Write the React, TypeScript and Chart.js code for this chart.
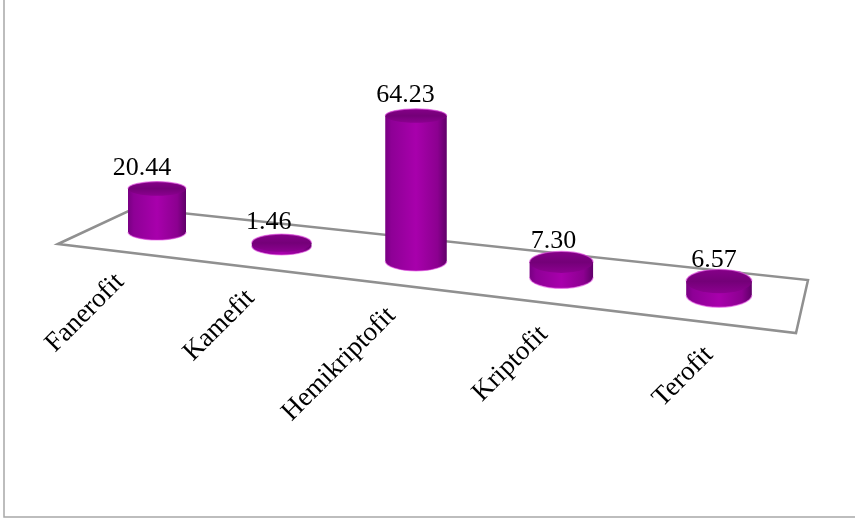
import React, { useEffect, useRef } from "react";
import { Chart, registerables } from "chart.js";

Chart.register(...registerables);

const categories = ["Fanerofit", "Kamefit", "Hemikriptofit", "Kriptofit", "Terofit"];
const percentages = [20.44, 1.46, 64.23, 7.3, 6.57];

const SERIF = '"Liberation Serif", "Times New Roman", serif';
const PX_PER_UNIT = 2.05;

// Projects a column position on the flat axis onto the tilted floor plane.
function floorX(slot: number) {
  return 157 + (120.1 * slot) / (1 - 0.0363 * slot);
}
const floorCentreY = (x: number) => 232 + (x - 157) * 0.112;
const radiusX = (x: number) => 29 + (x - 157) * 0.0068;
const radiusY = (x: number) => 8 + (x - 157) * 0.0075;

function ellipsePath(ctx: CanvasRenderingContext2D, x: number, y: number, rx: number, ry: number) {
  ctx.beginPath();
  ctx.ellipse(x, y, rx, ry, 0, 0, Math.PI * 2);
}

function drawCylinder(
  ctx: CanvasRenderingContext2D,
  x: number,
  bottom: number,
  height: number,
  rx: number,
  ryBottom: number,
  ryTop: number
) {
  const top = bottom - height;

  // Curved side wall: lower half of the base ellipse joined to the top ellipse.
  const side = ctx.createLinearGradient(x - rx, 0, x + rx, 0);
  side.addColorStop(0, "#780082");
  side.addColorStop(0.1, "#8e0096");
  side.addColorStop(0.5, "#a800ac");
  side.addColorStop(0.85, "#8c0090");
  side.addColorStop(1, "#600069");
  ctx.beginPath();
  ctx.moveTo(x - rx, top);
  ctx.lineTo(x - rx, bottom);
  ctx.ellipse(x, bottom, rx, ryBottom, 0, Math.PI, 0, true);
  ctx.lineTo(x + rx, top);
  ctx.closePath();
  ctx.fillStyle = side;
  ctx.fill();

  // Soft light rim along the base.
  ctx.beginPath();
  ctx.ellipse(x, bottom, rx, ryBottom, 0, Math.PI, 0, true);
  ctx.strokeStyle = "rgba(225, 80, 225, 0.6)";
  ctx.lineWidth = 1.2;
  ctx.stroke();

  // Top cap.
  const cap = ctx.createLinearGradient(0, top - ryTop, 0, top + ryTop);
  cap.addColorStop(0, "#850088");
  cap.addColorStop(0.5, "#740078");
  cap.addColorStop(1, "#8c0090");
  ellipsePath(ctx, x, top, rx, ryTop);
  ctx.fillStyle = cap;
  ctx.fill();
  ctx.beginPath();
  ctx.ellipse(x, top, rx, ryTop, 0, Math.PI, 0, false);
  ctx.strokeStyle = "rgba(225, 80, 225, 0.65)";
  ctx.stroke();
}

const tiltedColumns = {
  id: "tiltedColumns",
  beforeDatasetsDraw(chart: Chart) {
    const { ctx } = chart;
    ctx.save();

    // Frame of the chart object.
    ctx.strokeStyle = "#a8a8a8";
    ctx.lineWidth = 1.5;
    ctx.beginPath();
    ctx.moveTo(4, 0);
    ctx.lineTo(4, 517);
    ctx.lineTo(855, 517);
    ctx.stroke();

    // Floor plane.
    ctx.strokeStyle = "#909090";
    ctx.lineWidth = 2.5;
    ctx.lineJoin = "miter";
    ctx.beginPath();
    ctx.moveTo(58, 244);
    ctx.lineTo(135, 208);
    ctx.lineTo(808, 280);
    ctx.lineTo(796, 333);
    ctx.closePath();
    ctx.stroke();
    ctx.restore();
  },
  afterDatasetsDraw(chart: Chart) {
    const { ctx } = chart;
    const bars = chart.getDatasetMeta(0).data as any[];
    const step = bars[1].x - bars[0].x;

    ctx.save();
    bars.forEach((bar, i) => {
      const x = floorX((bar.x - bars[0].x) / step);
      const bottom = floorCentreY(x);
      const raw = bar.base - bar.y;
      const height = raw * (1 + raw * 0.00078);
      const rx = radiusX(x);
      const ryBottom = radiusY(x);
      const ryTop = ryBottom - height * 0.02;
      drawCylinder(ctx, x, bottom, height, rx, ryBottom, ryTop);

      // Value above the cap.
      ctx.fillStyle = "#000000";
      ctx.font = `26px ${SERIF}`;
      ctx.textAlign = "center";
      ctx.textBaseline = "alphabetic";
      const valueX = x - 15 + ((x - 157) * 10) / 562;
      ctx.fillText(percentages[i].toFixed(2), valueX, bottom - height - 14);

      // Category name, slanted and ending under the column.
      const endX = x - 37 + ((x - 157) * 27) / 562;
      const endY = 278 + (endX - 120) * 0.124;
      ctx.save();
      ctx.translate(endX, endY);
      ctx.rotate(-Math.PI / 4);
      ctx.font = `27px ${SERIF}`;
      ctx.textAlign = "right";
      ctx.textBaseline = "middle";
      ctx.fillText(categories[i], 0, 0);
      ctx.restore();
    });
    ctx.restore();
  },
};

export default function App() {
  const ref = useRef<HTMLCanvasElement | null>(null);

  useEffect(() => {
    document.body.style.margin = "0";
    const chart = new Chart(ref.current!, {
      type: "bar",
      data: {
        labels: categories,
        datasets: [{ data: percentages, backgroundColor: "transparent", borderWidth: 0 }],
      },
      options: {
        responsive: false,
        animation: false,
        layout: { padding: { top: 100, bottom: 19, left: 60, right: 60 } },
        plugins: { legend: { display: false }, tooltip: { enabled: false } },
        scales: {
          x: { display: false },
          y: { display: false, min: 0, max: 400 / PX_PER_UNIT },
        },
      },
      plugins: [tiltedColumns],
    });
    return () => chart.destroy();
  }, []);

  return (
    <div style={{ width: 855, height: 519, background: "#ffffff" }}>
      <canvas ref={ref} width={855} height={519} style={{ display: "block" }} />
    </div>
  );
}
